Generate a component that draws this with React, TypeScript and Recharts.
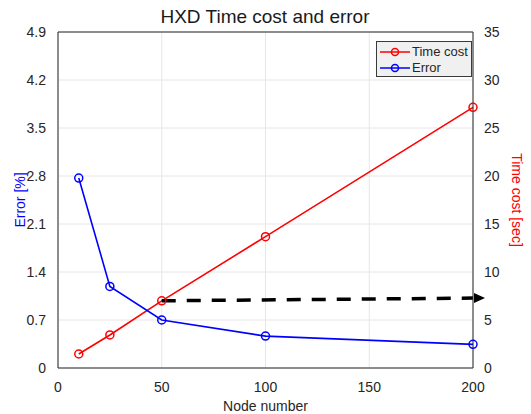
import React from "react";
import {
  ComposedChart,
  Line,
  XAxis,
  YAxis,
  CartesianGrid,
  ReferenceLine,
} from "recharts";

const nodeNumbers = [10, 25, 50, 100, 200];
const errorValues = [2.77, 1.19, 0.7, 0.465, 0.345];
const timeCostValues = [1.46, 3.44, 7.0, 13.68, 27.15];
const arrowValues: (number | null)[] = [null, null, 7.0, null, 7.28];

const xTicks = [0, 50, 100, 150, 200];
const errorTicks = [0, 0.7, 1.4, 2.1, 2.8, 3.5, 4.2, 4.9];
const timeTicks = [0, 5, 10, 15, 20, 25, 30, 35];

const data = nodeNumbers.map((n, i) => ({
  node: n,
  error: errorValues[i],
  time: timeCostValues[i],
  arrow: arrowValues[i],
}));

const FONT = "'Liberation Sans', Arial, Helvetica, sans-serif";
const AXIS = "#262626";

const ArrowDot = (props: any) => {
  const { cx, cy, index } = props;
  if (index !== nodeNumbers.length - 1 || cx == null || cy == null) {
    return <g key={`a${index}`} />;
  }
  return (
    <polygon
      key={`a${index}`}
      points={`${cx + 12},${cy} ${cx + 1},${cy - 5} ${cx + 1},${cy + 5}`}
      fill="#000"
    />
  );
};

const LegendBox = () => {
  const items = [
    { label: "Time cost", color: "#ff0000" },
    { label: "Error", color: "#0000ff" },
  ];
  return (
    <div
      style={{
        position: "absolute",
        left: 376,
        top: 41,
        width: 96,
        height: 36,
        background: "#f0f0f0",
        border: "1px solid #3a3a3a",
        fontFamily: FONT,
        fontSize: 13,
        color: "#262626",
        boxSizing: "border-box",
        paddingTop: 2,
      }}
    >
      {items.map((it) => (
        <div
          key={it.label}
          style={{ display: "flex", alignItems: "center", height: 16 }}
        >
          <svg width={35} height={16} style={{ flex: "none" }}>
            <line x1={3} y1={8} x2={33} y2={8} stroke={it.color} strokeWidth={1.5} />
            <circle cx={18} cy={8} r={3.5} fill="none" stroke={it.color} strokeWidth={1.5} />
          </svg>
          <span style={{ lineHeight: "16px" }}>{it.label}</span>
        </div>
      ))}
    </div>
  );
};

export default function App() {
  return (
    <div style={{ position: "absolute", left: 0, top: 0, width: 531, height: 414, background: "#fff" }}>
      <ComposedChart
        width={531}
        height={414}
        data={data}
        margin={{ top: 32, right: 0, bottom: 0, left: 0 }}
      >
        <text
          x={265}
          y={23}
          textAnchor="middle"
          fontFamily={FONT}
          fontSize={19}
          fill="#1a1a1a"
        >
          HXD Time cost and error
        </text>
        <CartesianGrid stroke="#e6e6e6" strokeWidth={1} yAxisId="left" />
        <XAxis
          dataKey="node"
          type="number"
          domain={[0, 200]}
          ticks={xTicks}
          height={46}
          tickLine={false}
          tickMargin={8}
          stroke={AXIS}
          tick={{ fill: AXIS, fontSize: 14, fontFamily: FONT }}
          label={{
            value: "Node number",
            position: "insideBottom",
            offset: 3,
            fill: AXIS,
            fontSize: 14,
            fontFamily: FONT,
          }}
        />
        <YAxis
          yAxisId="left"
          orientation="left"
          domain={[0, 4.9]}
          ticks={errorTicks}
          width={58}
          tickLine={false}
          tickMargin={6}
          stroke={AXIS}
          interval={0}
          tick={{ fill: AXIS, fontSize: 14, fontFamily: FONT }}
          label={{
            value: "Error [%]",
            angle: -90,
            position: "insideLeft",
            offset: 20,
            fill: "#0000ff",
            fontSize: 14,
            fontFamily: FONT,
            style: { textAnchor: "middle" },
          }}
        />
        <YAxis
          yAxisId="right"
          orientation="right"
          domain={[0, 35]}
          ticks={timeTicks}
          width={58}
          tickLine={false}
          tickMargin={5}
          stroke={AXIS}
          interval={0}
          tick={{ fill: AXIS, fontSize: 14, fontFamily: FONT }}
          label={{
            value: "Time cost [sec]",
            angle: 90,
            position: "insideRight",
            offset: 14,
            fill: "#ff0000",
            fontSize: 14,
            fontFamily: FONT,
            style: { textAnchor: "middle" },
          }}
        />
        <ReferenceLine yAxisId="left" y={4.9} stroke={AXIS} />
        <Line
          yAxisId="right"
          dataKey="time"
          name="Time cost"
          stroke="#ff0000"
          strokeWidth={1.6}
          isAnimationActive={false}
          dot={{ r: 4, fill: "none", stroke: "#ff0000", strokeWidth: 1.5 }}
          activeDot={false}
        />
        <Line
          yAxisId="left"
          dataKey="error"
          name="Error"
          stroke="#0000ff"
          strokeWidth={1.6}
          isAnimationActive={false}
          dot={{ r: 4, fill: "none", stroke: "#0000ff", strokeWidth: 1.5 }}
          activeDot={false}
        />
        <Line
          yAxisId="right"
          dataKey="arrow"
          connectNulls
          stroke="#000"
          strokeWidth={3.5}
          strokeDasharray="14 11"
          isAnimationActive={false}
          dot={ArrowDot}
          activeDot={false}
          legendType="none"
        />
      </ComposedChart>
      <LegendBox />
    </div>
  );
}
